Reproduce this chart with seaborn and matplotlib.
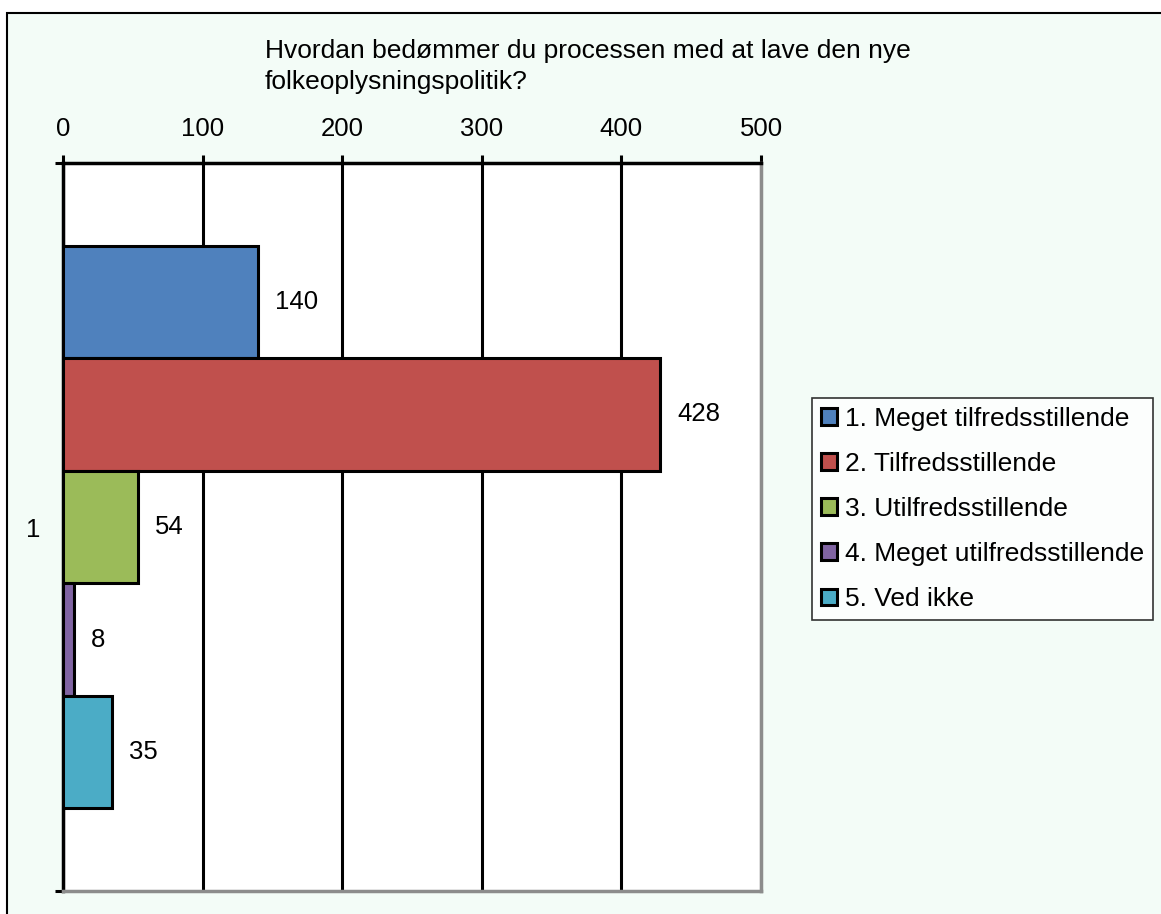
import matplotlib
matplotlib.use("Agg")
import matplotlib.pyplot as plt
import seaborn as sns
import pandas as pd
from matplotlib.patches import Rectangle

# data
category = ["1"]
series = ["1. Meget tilfredsstillende", "2. Tilfredsstillende", "3. Utilfredsstillende",
          "4. Meget utilfredsstillende", "5. Ved ikke"]
values = [140, 428, 54, 8, 35]
colors = ["#4F81BD", "#C0504D", "#9BBB59", "#8064A2", "#4BACC6"]
xticks = [0, 100, 200, 300, 400, 500]
title = "Hvordan bedømmer du processen med at lave den nye\nfolkeoplysningspolitik?"

df = pd.DataFrame({"kat": category * len(series), "svar": series, "antal": values})

sns.set_style("white")
plt.rcParams["font.family"] = ["Liberation Sans", "DejaVu Sans"]
plt.rcParams["text.color"] = "black"
plt.rcParams["xtick.color"] = "black"
plt.rcParams["ytick.color"] = "black"
plt.rcParams["axes.labelcolor"] = "black"
FS = 18.5

W, H = 1161, 914
fig = plt.figure(figsize=(W / 100, H / 100), dpi=100)
fig.patch.set_facecolor("white")
# outer chart frame, behind the axes
fig.patches.append(Rectangle((7 / W, -0.01), 1.0, 1 - 13 / H + 0.01, transform=fig.transFigure,
                             facecolor="#F3FCF7", edgecolor="black", linewidth=1.5, zorder=-5))

ax = fig.add_axes([63 / W, 1 - 891 / H, (761 - 63) / W, (891 - 163) / H])
ax.set_facecolor("white")

sns.barplot(data=df, y="kat", x="antal", hue="svar", hue_order=series, palette=colors,
            orient="h", width=0.773, saturation=1, edgecolor="black", linewidth=2.2, ax=ax,
            legend=True, zorder=3)

for c in ax.containers:
    ax.bar_label(c, padding=12, fontsize=FS, color="black")

ax.set_xlim(0, 500)
ax.set_ylim(0.5, -0.5)
ax.xaxis.tick_top()
ax.set_xticks(xticks)
ax.set_xticklabels([str(t) for t in xticks], fontsize=FS)
ax.tick_params(axis="x", which="major", direction="out", length=6, width=2.2, pad=10, top=True, bottom=False)
ax.set_yticks([0])
ax.set_yticklabels(category, fontsize=FS)
ax.set_yticks([-0.5, 0.5], minor=True)
ax.tick_params(axis="y", which="major", length=0, pad=16)
ax.tick_params(axis="y", which="minor", direction="out", length=6, width=2.2, left=True)
ax.set_xlabel("")
ax.set_ylabel("")

ax.grid(axis="x", color="black", linewidth=2.2, zorder=0)
ax.set_axisbelow(True)
for s in ["top", "left"]:
    ax.spines[s].set_color("black")
    ax.spines[s].set_linewidth(2.5)
    ax.spines[s].set_visible(True)
for s in ["right", "bottom"]:
    ax.spines[s].set_color("#8c8c8c")
    ax.spines[s].set_linewidth(2.5)
    ax.spines[s].set_visible(True)

leg = ax.legend(loc="center left", bbox_to_anchor=(812 / W, 1 - 509 / H),
                bbox_transform=fig.transFigure, fontsize=19, frameon=True, fancybox=False,
                handlelength=0.6, handleheight=0.6, handletextpad=0.3, labelspacing=0.8,
                borderpad=0.35, borderaxespad=0)
leg.get_frame().set_edgecolor("black")
leg.get_frame().set_linewidth(1.2)

fig.text(265 / W, 1 - 39 / H, title, fontsize=19, ha="left", va="top", linespacing=1.38)

fig.savefig("out.png", dpi=100)
